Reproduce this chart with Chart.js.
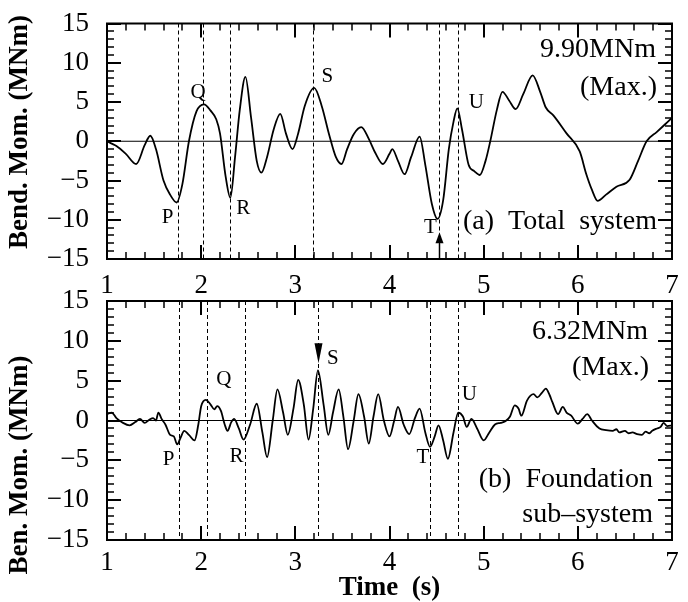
<!DOCTYPE html>
<html><head><meta charset="utf-8">
<script src="https://cdn.jsdelivr.net/npm/chart.js@4/dist/chart.umd.min.js"></script>
<style>
html,body{margin:0;padding:0;background:#fff;}
#wrap{position:relative;width:688px;height:602px;overflow:hidden;background:#fff;}
canvas{position:absolute;left:0;}
</style></head><body>
<div id="wrap">
<canvas id="c1" width="688" height="300" style="top:0px"></canvas>
<canvas id="c2" width="688" height="332" style="top:270px"></canvas>
</div>
<script>
const timeA = [1.00,1.05,1.10,1.20,1.31,1.40,1.46,1.52,1.60,1.67,1.74,1.80,1.87,1.95,2.03,2.10,2.16,2.20,2.26,2.31,2.36,2.41,2.47,2.53,2.59,2.64,2.70,2.77,2.84,2.90,2.97,3.03,3.10,3.20,3.28,3.36,3.43,3.49,3.55,3.62,3.70,3.78,3.85,3.93,4.00,4.03,4.09,4.16,4.23,4.32,4.38,4.45,4.51,4.57,4.63,4.68,4.72,4.77,4.84,4.90,4.96,5.02,5.07,5.14,5.20,5.27,5.34,5.42,5.52,5.60,5.66,5.74,5.88,6.02,6.09,6.15,6.21,6.30,6.41,6.55,6.64,6.73,6.84,6.93,7.00];
const momentA = [0.0,-0.3,-0.6,-1.6,-2.9,-0.5,0.7,-1.0,-5.0,-6.8,-7.8,-5.5,0.0,3.8,4.7,3.9,2.8,1.0,-4.5,-7.2,-2.0,4.0,8.2,3.0,-2.5,-4.0,-2.0,1.5,3.5,1.0,-1.0,1.0,4.5,6.8,4.5,0.8,-2.0,-2.9,-1.0,0.9,1.8,0.3,-1.5,-2.9,-1.6,-1.0,-2.5,-4.2,-2.0,0.6,-3.0,-8.0,-9.9,-7.5,-1.0,2.5,4.2,1.5,-3.0,-3.8,-4.3,-2.5,0.0,4.0,6.3,5.2,4.1,6.0,8.4,6.3,4.3,3.3,1.0,-1.3,-4.2,-6.2,-7.6,-6.8,-5.8,-4.9,-2.5,0.0,1.2,2.2,3.0];
const timeB = [1.00,1.05,1.10,1.17,1.24,1.30,1.35,1.40,1.45,1.49,1.52,1.545,1.58,1.62,1.67,1.71,1.745,1.78,1.82,1.87,1.93,1.97,2.00,2.05,2.10,2.14,2.17,2.21,2.25,2.28,2.32,2.35,2.40,2.45,2.52,2.59,2.65,2.70,2.76,2.81,2.87,2.92,2.98,3.03,3.09,3.14,3.19,3.24,3.30,3.35,3.40,3.46,3.51,3.56,3.62,3.67,3.73,3.78,3.83,3.88,3.94,4.00,4.05,4.09,4.15,4.21,4.27,4.32,4.38,4.43,4.48,4.52,4.57,4.62,4.68,4.73,4.78,4.82,4.87,4.93,5.00,5.06,5.12,5.18,5.23,5.28,5.33,5.37,5.40,5.46,5.53,5.57,5.62,5.66,5.70,5.73,5.79,5.84,5.88,5.93,6.00,6.05,6.10,6.15,6.23,6.30,6.37,6.41,6.44,6.50,6.54,6.58,6.63,6.68,6.72,6.76,6.79,6.84,6.88,6.91,6.95,7.00];
const momentB = [0.8,1.0,0.3,-0.3,-0.6,-0.2,0.2,-0.3,0.1,0.3,0.0,1.0,0.2,-0.5,-1.8,-2.0,-3.0,-2.2,-1.3,-1.8,-2.5,-0.5,1.8,2.6,2.0,1.4,1.8,1.2,-0.5,-1.3,-0.2,0.2,-1.0,-2.4,-0.5,2.1,-1.5,-4.6,0.0,3.9,1.0,-1.8,1.5,5.1,2.0,-2.4,1.5,6.3,2.0,-1.8,1.0,3.9,0.5,-3.6,0.0,3.3,0.5,-2.9,0.5,3.3,0.0,-2.0,0.0,1.7,-0.5,-1.7,0.3,1.5,-1.5,-3.3,-2.0,-0.6,-2.5,-4.8,-1.5,1.0,0.5,-0.8,0.2,-1.0,-2.5,-1.5,-0.5,-0.3,-0.1,0.5,1.9,1.5,0.6,2.5,3.3,2.9,3.5,4.0,3.2,2.3,0.8,1.7,1.0,0.6,-0.4,0.2,0.8,0.0,-1.0,-1.2,-1.3,-1.1,-1.5,-1.3,-1.6,-1.5,-1.7,-1.8,-1.4,-1.6,-1.3,-1.0,-0.8,-0.3,-0.7,-0.6];
const markerLetters = ['P','Q','R','S','T','U'];
const markerTimesA = [1.75,2.02,2.31,3.19,4.53,4.73];
const markerTimesB = [1.76,2.06,2.47,3.24,4.43,4.73];
const letterLevelsA = [-9.7,6.2,-8.6,8.3,-11.0,5.0];
const letterLevelsB = [-4.9,5.1,-4.5,7.8,-4.7,3.3];
const xTickValues = [1,2,3,4,5,6,7];
const yTickValues = [-15,-10,-5,0,5,10,15];
const notesA = ['9.90MNm','(Max.)','(a)  Total  system'];
const notesB = ['6.32MNm','(Max.)','(b)  Foundation','sub\u2013system'];
const yTitleA = 'Bend. Mom. (MNm)';
const yTitleB = 'Ben. Mom. (MNm)';
const xTitle = 'Time  (s)';

const SERIF = '"Liberation Serif", "Times New Roman", serif';
const minus = v => (v < 0 ? '\u2212' + Math.abs(v) : String(v));

function panelPlugin(cfg) {
  return {
    id: 'panel' + cfg.id,
    beforeDatasetsDraw(chart) {
      const {ctx, chartArea: a, scales: {x, y}} = chart;
      ctx.save();
      ctx.strokeStyle = '#000'; ctx.lineWidth = 1.2;
      ctx.beginPath();
      const y0 = y.getPixelForValue(0);
      ctx.moveTo(a.left, y0); ctx.lineTo(a.right, y0); ctx.stroke();
      ctx.lineWidth = 1; ctx.setLineDash([4, 3]);
      cfg.markers.forEach(t => {
        const px = Math.round(x.getPixelForValue(t)) + 0.5;
        ctx.beginPath(); ctx.moveTo(px, a.top); ctx.lineTo(px, a.bottom); ctx.stroke();
      });
      ctx.restore();
    },
    afterDraw(chart) {
      const ctx = chart.ctx;
      const a = chart.chartArea;
      const x = chart.scales.x, y = chart.scales.y;
      ctx.save();
      ctx.setLineDash([]);
      ctx.fillStyle = '#000';
      for (let i = 0; i <= 30; i++) {
        const px = Math.round(x.getPixelForValue(1 + i * 0.2));
        const major = (i % 5 === 0);
        const L = major ? 14 : 7, w = major ? 2 : 1.5;
        ctx.fillRect(px - w / 2, a.bottom - L, w, L);
        ctx.fillRect(px - w / 2, a.top, w, L);
      }
      for (let v = -15; v <= 15; v++) {
        const py = Math.round(y.getPixelForValue(v));
        const major = (Math.abs(v) % 5 === 0);
        const L = major ? 14 : 7, w = major ? 2 : 1.5;
        ctx.fillRect(a.left, py - w / 2, L, w);
        ctx.fillRect(a.right - L, py - w / 2, L, w);
      }
      ctx.strokeStyle = '#000';
      ctx.lineWidth = 2;
      ctx.strokeRect(a.left, a.top, a.right - a.left, a.bottom - a.top);
      ctx.font = '21px ' + SERIF;
      ctx.textAlign = 'center'; ctx.textBaseline = 'middle';
      markerLetters.forEach((s, i) => {
        const px = x.getPixelForValue(cfg.markers[i]) + cfg.letterDx[i];
        ctx.fillText(s, px, y.getPixelForValue(cfg.levels[i]));
      });
      const ar = cfg.arrow;
      const ax = Math.round(x.getPixelForValue(ar.t)) + 0.5;
      const tipY = y.getPixelForValue(ar.tip), baseY = y.getPixelForValue(ar.base);
      ctx.beginPath();
      ctx.moveTo(ax, tipY); ctx.lineTo(ax - 4, baseY); ctx.lineTo(ax + 4, baseY); ctx.closePath();
      ctx.fill();
      if (ar.stem !== undefined) {
        ctx.lineWidth = 1.5; ctx.beginPath();
        ctx.moveTo(ax, baseY); ctx.lineTo(ax, y.getPixelForValue(ar.stem)); ctx.stroke();
      }
      ctx.font = '28px ' + SERIF;
      ctx.textAlign = 'right';
      cfg.notes.forEach((s, i) => {
        const n = cfg.notePos[i];
        ctx.fillText(s, n[0], n[1]);
      });
      ctx.font = 'bold 27px ' + SERIF;
      ctx.textAlign = 'center';
      ctx.translate(cfg.yTitlePos[0], cfg.yTitlePos[1]);
      ctx.rotate(-Math.PI / 2);
      ctx.fillText(cfg.yTitle, 0, 0);
      ctx.restore();
    }
  };
}

function makeChart(id, times, values, cfg, axisH, padTop, tickPad, showXTitle) {
  const pts = times.map((t, i) => ({x: t, y: values[i]}));
  return new Chart(document.getElementById(id), {
    type: 'line',
    data: {datasets: [{data: pts, borderColor: '#000', borderWidth: 1.8, pointRadius: 0,
      cubicInterpolationMode: 'monotone', fill: false}]},
    options: {
      responsive: false, animation: false, devicePixelRatio: 1,
      layout: {padding: {top: padTop, right: 16, left: 0, bottom: 0}},
      plugins: {legend: {display: false}, tooltip: {enabled: false}},
      scales: {
        x: {type: 'linear', min: 1, max: 7,
          afterBuildTicks: s => { s.ticks = xTickValues.map(v => ({value: v})); },
          ticks: {font: {family: SERIF, size: 27, lineHeight: 1}, color: '#000', padding: tickPad, maxRotation: 0,
            callback: v => String(v)},
          grid: {display: false}, border: {display: false},
          title: {display: showXTitle, text: xTitle, color: '#000',
            font: {family: SERIF, size: 27, weight: 'bold', lineHeight: 1}, padding: {top: 0, bottom: 0}},
          afterFit: s => { s.height = axisH; }
        },
        y: {type: 'linear', min: -15, max: 15,
          afterBuildTicks: s => { s.ticks = yTickValues.map(v => ({value: v})); },
          ticks: {font: {family: SERIF, size: 27, lineHeight: 1}, color: '#000', padding: 10,
            callback: v => minus(v)},
          grid: {display: false}, border: {display: false},
          afterFit: s => { s.width = 107; }
        }
      }
    },
    plugins: [panelPlugin(cfg)]
  });
}

makeChart('c1', timeA, momentA, {
  id: 'A', markers: markerTimesA, levels: letterLevelsA,
  letterDx: [-10, -5, 13, 14, -9, 18],
  arrow: {t: markerTimesA[4], tip: -11.6, base: -13.0, stem: -15},
  notes: notesA, notePos: [[656, 50], [657, 88], [657, 222]],
  yTitle: yTitleA, yTitlePos: [20, 132]
}, 41, 20, 5, false);

makeChart('c2', timeB, momentB, {
  id: 'B', markers: markerTimesB, levels: letterLevelsB,
  letterDx: [-10, 17, -9, 15, -7, 11],
  arrow: {t: markerTimesB[3], tip: 7.2, base: 9.7},
  notes: notesB, notePos: [[648, 62], [649, 98], [653, 210], [653, 245]],
  yTitle: yTitleB, yTitlePos: [20, 195]
}, 62, 31, 1, true);
</script>
</body></html>
